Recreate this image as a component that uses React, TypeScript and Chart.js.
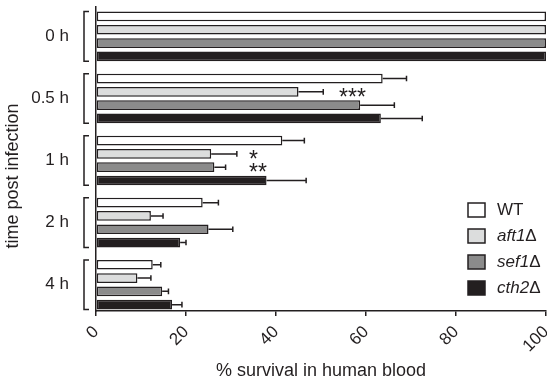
import React, { useEffect, useRef } from 'react';
import { Chart, registerables } from 'chart.js';

Chart.register(...registerables);

// ---------- data ----------
const times = ['0 h', '0.5 h', '1 h', '2 h', '4 h'];
const strainNames = ['WT', 'aft1', 'sef1', 'cth2'];
const strainSuffix = ['', 'Δ', 'Δ', 'Δ'];
const strainItalic = [false, true, true, true];

const wtValues = [100, 63.7, 41.4, 23.7, 12.6];
const wtErrors = [0, 5.3, 4.9, 3.5, 1.8];
const aft1Values = [100, 45.0, 25.6, 12.2, 9.2];
const aft1Errors = [0, 5.5, 5.7, 2.7, 3.0];
const sef1Values = [100, 58.7, 26.3, 25.0, 14.7];
const sef1Errors = [0, 7.6, 2.5, 5.4, 1.4];
const cth2Values = [100, 63.3, 37.9, 18.7, 16.9];
const cth2Errors = [0, 9.2, 8.8, 1.3, 2.2];

const xTicks = [0, 20, 40, 60, 80, 100];

// significance marks: time index, strain index, text, x value where the text starts
const sigTime = [1, 2, 2];
const sigStrain = [1, 1, 2];
const sigText = ['***', '*', '**'];
const sigAt = [54, 34, 34];

const xTitle = '% survival in human blood';
const yTitle = 'time post infection';

// ---------- styles ----------
const INK = '#231f20';
const FONT = '"Liberation Sans", Arial, Helvetica, sans-serif';
const fills = ['#ffffff', '#dcdddd', '#8b8b8b', '#231f20'];

const seriesValues = [wtValues, aft1Values, sef1Values, cth2Values];
const seriesErrors = [wtErrors, aft1Errors, sef1Errors, cth2Errors];

const decorPlugin = {
  id: 'decor',
  afterDatasetsDraw(chart: any) {
    const ctx = chart.ctx as CanvasRenderingContext2D;
    const xs = chart.scales.x;
    const area = chart.chartArea;
    ctx.save();
    ctx.strokeStyle = INK;
    ctx.fillStyle = INK;
    ctx.lineWidth = 1.5;

    // error bars
    seriesValues.forEach((vals, d) => {
      const meta = chart.getDatasetMeta(d);
      meta.data.forEach((el: any, i: number) => {
        const e = seriesErrors[d][i];
        if (!e) return;
        const x0 = xs.getPixelForValue(vals[i]);
        const x1 = xs.getPixelForValue(vals[i] + e);
        ctx.beginPath();
        ctx.moveTo(x0, el.y);
        ctx.lineTo(x1, el.y);
        ctx.moveTo(x1, el.y - 2.8);
        ctx.lineTo(x1, el.y + 2.8);
        ctx.stroke();
      });
    });

    // brackets for each time group
    times.forEach((_t, i) => {
      let top = Infinity;
      let bot = -Infinity;
      seriesValues.forEach((_v, d) => {
        const el: any = chart.getDatasetMeta(d).data[i];
        top = Math.min(top, el.y - el.height / 2);
        bot = Math.max(bot, el.y + el.height / 2);
      });
      const bx = area.left - 12;
      ctx.beginPath();
      ctx.moveTo(bx + 5, top);
      ctx.lineTo(bx, top);
      ctx.lineTo(bx, bot);
      ctx.lineTo(bx + 5, bot);
      ctx.stroke();
    });

    // significance stars
    ctx.font = `23px ${FONT}`;
    ctx.textAlign = 'left';
    ctx.textBaseline = 'alphabetic';
    sigText.forEach((txt, k) => {
      const el: any = chart.getDatasetMeta(sigStrain[k]).data[sigTime[k]];
      const x = xs.getPixelForValue(sigAt[k]);
      ctx.fillText(txt, x, el.y + 13.2);
    });

    // legend
    const boxX = area.right - 78;
    const firstRow = area.bottom - 101;
    const step = 26;
    ctx.textBaseline = 'middle';
    strainNames.forEach((name, d) => {
      const cy = firstRow + d * step;
      ctx.fillStyle = fills[d];
      ctx.fillRect(boxX, cy - 7, 17, 14);
      ctx.lineWidth = 1.5;
      ctx.strokeStyle = INK;
      ctx.strokeRect(boxX, cy - 7, 17, 14);
      ctx.fillStyle = INK;
      const tx = boxX + 29;
      ctx.font = `${strainItalic[d] ? 'italic ' : ''}17px ${FONT}`;
      ctx.fillText(name, tx, cy);
      const w = ctx.measureText(name).width;
      if (strainSuffix[d]) {
        ctx.font = `17px ${FONT}`;
        ctx.fillText(strainSuffix[d], tx + w, cy);
      }
    });

    // y-axis title (rotated)
    ctx.save();
    ctx.translate(13, (area.top + area.bottom) / 2 + 17);
    ctx.rotate(-Math.PI / 2);
    ctx.textAlign = 'center';
    ctx.textBaseline = 'middle';
    ctx.font = `18px ${FONT}`;
    ctx.fillStyle = INK;
    ctx.fillText(yTitle, 0, 0);
    ctx.restore();

    ctx.restore();
  },
};

export default function App() {
  const canvasRef = useRef<HTMLCanvasElement | null>(null);

  useEffect(() => {
    if (!canvasRef.current) return;
    const datasets = strainNames.map((name, d) => ({
      label: name + strainSuffix[d],
      data: seriesValues[d].map((v, i) => ({ x: v, y: i })),
      backgroundColor: fills[d],
      borderColor: INK,
      borderWidth: 1.5,
      borderSkipped: false as const,
      categoryPercentage: 0.857,
      barPercentage: 0.73,
    }));

    const chart = new Chart(canvasRef.current, {
      type: 'bar',
      data: { datasets },
      options: {
        indexAxis: 'y',
        animation: false,
        responsive: false,
        events: [],
        layout: { padding: { top: 7, right: 1, bottom: 0, left: 0 } },
        plugins: {
          legend: { display: false },
          tooltip: { enabled: false },
        },
        scales: {
          x: {
            type: 'linear',
            min: 0,
            max: 100,
            afterBuildTicks: (scale: any) => {
              scale.ticks = xTicks.map((v) => ({ value: v }));
            },
            afterFit: (scale: any) => {
              scale.height = 74;
              scale.paddingLeft = 0;
              scale.paddingRight = 0;
            },
            grid: {
              display: true,
              drawOnChartArea: false,
              drawTicks: true,
              tickLength: 5,
              color: INK,
              lineWidth: 1.5,
            },
            border: { display: true, color: INK, width: 1.5 },
            ticks: {
              autoSkip: false,
              minRotation: 45,
              maxRotation: 45,
              padding: 6,
              color: INK,
              font: { family: FONT, size: 17 },
            },
            title: {
              display: true,
              text: xTitle,
              color: INK,
              font: { family: FONT, size: 18 },
              padding: { top: 0, bottom: 3 },
            },
          },
          y: {
            type: 'linear',
            reverse: true,
            offset: false,
            min: -0.474,
            max: 4.424,
            afterBuildTicks: (scale: any) => {
              scale.ticks = times.map((_t, i) => ({ value: i }));
            },
            afterFit: (scale: any) => {
              scale.width = 96;
              scale.paddingTop = 0;
              scale.paddingBottom = 0;
            },
            grid: { display: false, drawTicks: false, offset: false },
            border: { display: true, color: INK, width: 1.5 },
            ticks: {
              padding: 27,
              color: INK,
              font: { family: FONT, size: 17 },
              callback: (v: any) => times[Math.round(Number(v))] ?? '',
            },
            title: { display: false },
          },
        },
      },
      plugins: [decorPlugin],
    } as any);

    return () => chart.destroy();
  }, []);

  return (
    <div style={{ position: 'absolute', left: 0, top: 0, width: 547, height: 385, background: '#fff' }}>
      <canvas ref={canvasRef} width={547} height={385} />
    </div>
  );
}
